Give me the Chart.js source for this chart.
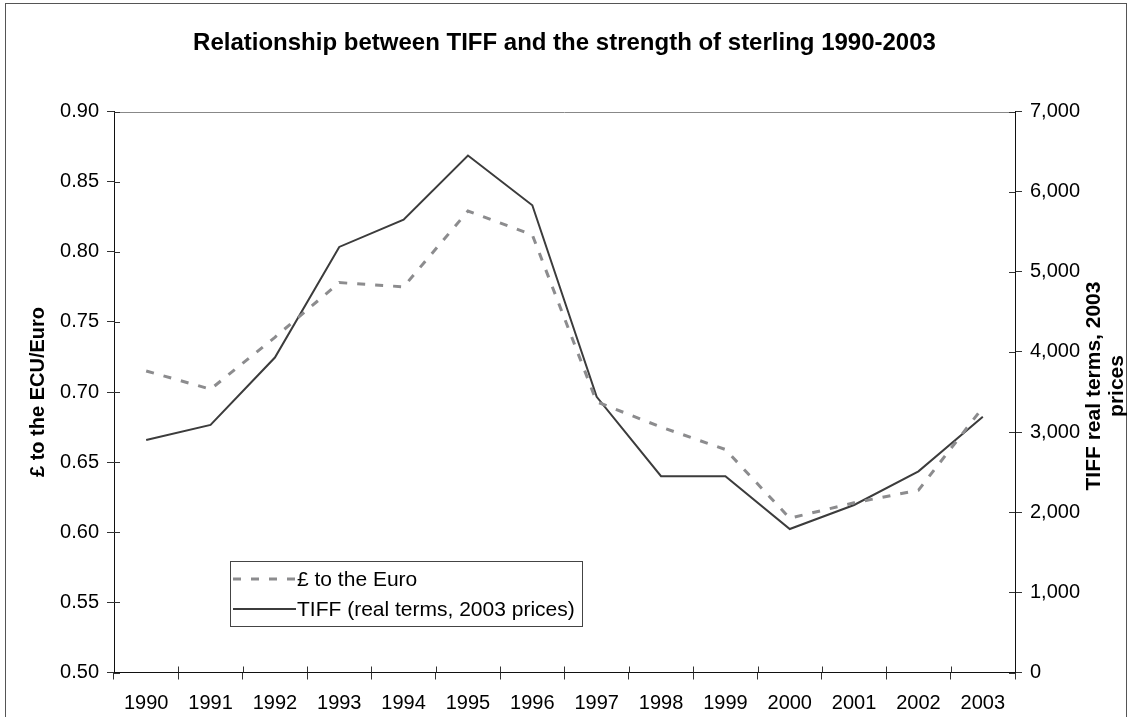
<!DOCTYPE html>
<html>
<head>
<meta charset="utf-8">
<title>TIFF and the strength of sterling</title>
<script src="https://cdn.jsdelivr.net/npm/chart.js@4.4.1/dist/chart.umd.min.js"></script>
<style>
  html, body { margin: 0; padding: 0; background: #fff; }
  #wrap { position: relative; width: 1129px; height: 717px; }
</style>
</head>
<body>
<div id="wrap"><canvas id="chart" width="1129" height="717"></canvas></div>
<script>
// --- DATA ---
const years = ['1990', '1991', '1992', '1993', '1994', '1995', '1996',
               '1997', '1998', '1999', '2000', '2001', '2002', '2003'];
const euroRate = [0.715, 0.702, 0.739, 0.778, 0.775, 0.829, 0.812,
                  0.693, 0.675, 0.659, 0.610, 0.621, 0.630, 0.689];
const tiffReal = [2900, 3090, 3930, 5310, 5650, 6450, 5830,
                  3440, 2450, 2450, 1790, 2090, 2510, 3190];
const seriesNames = ['£ to the Euro', 'TIFF (real terms, 2003 prices)'];

// axis ranges (tick labels come from these)
const rateMin = 0.50, rateMax = 0.90, rateStep = 0.05;
const tiffMin = 0, tiffMax = 7000, tiffStep = 1000;

// --- STYLE ---
const fontFamily = '"Liberation Sans", Arial, Helvetica, sans-serif';
const euroColor = '#8c8c8e';
const tiffColor = '#3c3c3c';
const euroDash = [8, 10];

// frame, top edge, inner tick halves, right axis title and the legend box
const decorPlugin = {
    id: 'decor',
    afterDraw(chart) {
        const ctx = chart.ctx;
        const area = chart.chartArea;
        const x = chart.scales.x, yL = chart.scales.y, yR = chart.scales.y1;
        const crisp = v => Math.round(v) + 0.5;

        ctx.save();

        // outer frame
        ctx.lineWidth = 1;
        ctx.strokeStyle = '#555';
        ctx.strokeRect(5.5, 3.5, 1121, 740);

        // top edge of the plot
        ctx.strokeStyle = '#888';
        ctx.beginPath();
        ctx.moveTo(area.left, crisp(area.top));
        ctx.lineTo(area.right, crisp(area.top));
        ctx.stroke();

        // ticks cross the axes: draw the inner half
        ctx.strokeStyle = '#333';
        ctx.beginPath();
        yL.ticks.forEach((t, i) => {
            const py = crisp(yL.getPixelForTick(i));
            ctx.moveTo(area.left, py);
            ctx.lineTo(area.left + 6, py);
        });
        yR.ticks.forEach((t, i) => {
            const py = crisp(yR.getPixelForTick(i));
            ctx.moveTo(area.right - 6, py);
            ctx.lineTo(area.right, py);
        });
        const half = (x.getPixelForTick(1) - x.getPixelForTick(0)) / 2;
        for (let i = 1; i < years.length; i++) {
            const px = crisp(x.getPixelForTick(i) - half);
            ctx.moveTo(px, area.bottom - 6);
            ctx.lineTo(px, area.bottom);
        }
        ctx.stroke();

        // right axis title, two lines, reading upwards
        ctx.fillStyle = '#000';
        ctx.font = 'bold 21px ' + fontFamily;
        ctx.textAlign = 'center';
        ctx.textBaseline = 'alphabetic';
        ctx.translate(1100, (area.top + area.bottom) / 2 - 6);
        ctx.rotate(-Math.PI / 2);
        ctx.fillText('TIFF real terms, 2003', 0, 0);
        ctx.fillText('prices', 0, 23);
        ctx.setTransform(1, 0, 0, 1, 0, 0);

        // legend box
        const lx = 230.5, ly = 561.5, lw = 352, lh = 65;
        ctx.fillStyle = '#fff';
        ctx.fillRect(lx, ly, lw, lh);
        ctx.strokeStyle = '#444';
        ctx.lineWidth = 1;
        ctx.strokeRect(lx, ly, lw, lh);

        const rows = [
            { y: 579, color: euroColor, width: 3, dash: euroDash },
            { y: 609, color: tiffColor, width: 2, dash: [] }
        ];
        ctx.font = '21px ' + fontFamily;
        ctx.textAlign = 'left';
        ctx.textBaseline = 'middle';
        rows.forEach((r, i) => {
            ctx.strokeStyle = r.color;
            ctx.lineWidth = r.width;
            ctx.setLineDash(r.dash);
            ctx.beginPath();
            ctx.moveTo(233, r.y);
            ctx.lineTo(296, r.y);
            ctx.stroke();
            ctx.setLineDash([]);
            ctx.fillStyle = '#000';
            ctx.fillText(seriesNames[i], 297, r.y + 1);
        });

        ctx.restore();
    }
};

document.addEventListener('DOMContentLoaded', function() {

    const tickFont = { family: fontFamily, size: 20 };

    new Chart(document.getElementById('chart'), {
        type: 'line',
        data: {
            labels: years,
            datasets: [
                {
                    label: seriesNames[0],
                    data: euroRate,
                    yAxisID: 'y',
                    borderColor: euroColor,
                    borderWidth: 3,
                    borderDash: euroDash,
                    pointRadius: 0,
                    tension: 0,
                    fill: false
                },
                {
                    label: seriesNames[1],
                    data: tiffReal,
                    yAxisID: 'y1',
                    borderColor: tiffColor,
                    borderWidth: 2,
                    pointRadius: 0,
                    tension: 0,
                    fill: false
                }
            ]
        },
        options: {
            responsive: false,
            animation: false,
            layout: { padding: 0 },
            plugins: {
                legend: { display: false },
                tooltip: { enabled: false },
                title: {
                    display: true,
                    text: 'Relationship between TIFF and the strength of sterling 1990-2003',
                    color: '#000',
                    font: { family: fontFamily, size: 24, weight: 'bold' },
                    padding: { top: 28.6, bottom: 54.1 }
                }
            },
            scales: {
                x: {
                    offset: true,
                    afterFit: s => { s.height = 44.5; },
                    grid: { display: true, offset: true, drawOnChartArea: false, tickLength: 7, color: '#333' },
                    border: { display: true, color: '#111', width: 1 },
                    ticks: { color: '#000', font: tickFont, padding: 12, maxRotation: 0, autoSkip: false }
                },
                y: {
                    position: 'left',
                    min: rateMin,
                    max: rateMax,
                    afterFit: s => { s.width = 114; },
                    grid: { drawOnChartArea: false, tickLength: 7, color: '#333' },
                    border: { display: true, color: '#111', width: 1 },
                    ticks: {
                        stepSize: rateStep,
                        color: '#000',
                        font: tickFont,
                        padding: 8,
                        callback: v => Number(v).toFixed(2)
                    },
                    title: {
                        display: true,
                        text: '£ to the ECU/Euro',
                        color: '#000',
                        font: { family: fontFamily, size: 20, weight: 'bold' },
                        padding: { top: 26, bottom: 0 }
                    }
                },
                y1: {
                    position: 'right',
                    min: tiffMin,
                    max: tiffMax,
                    afterFit: s => { s.width = 114; },
                    grid: { drawOnChartArea: false, tickLength: 7, color: '#333' },
                    border: { display: true, color: '#111', width: 1 },
                    ticks: {
                        stepSize: tiffStep,
                        color: '#000',
                        font: tickFont,
                        padding: 8,
                        callback: v => Number(v).toLocaleString('en-US')
                    }
                }
            }
        },
        plugins: [decorPlugin]
    });
});
</script>
</body>
</html>
